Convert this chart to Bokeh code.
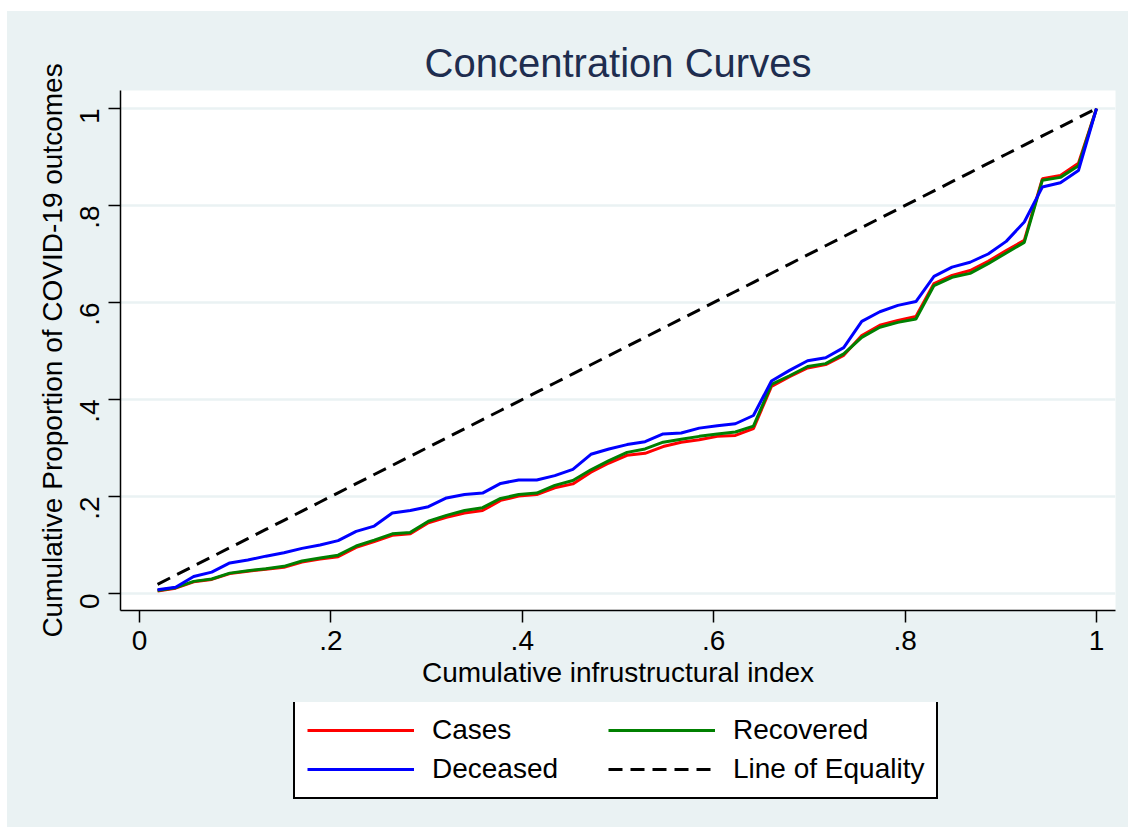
from bokeh.plotting import figure
from bokeh.layouts import column
from bokeh.models import Legend, LegendItem, FixedTicker, Range1d
from bokeh.embed import file_html
from bokeh.resources import INLINE
import math

N = 53
x_vals = [i / N for i in range(1, N + 1)]

cases = [0.005, 0.011, 0.024, 0.029, 0.041, 0.046, 0.050, 0.054, 0.065, 0.071,
         0.076, 0.095, 0.107, 0.120, 0.123, 0.146, 0.157, 0.166, 0.171, 0.192,
         0.201, 0.204, 0.218, 0.226, 0.250, 0.269, 0.285, 0.289, 0.303, 0.312,
         0.317, 0.324, 0.326, 0.340, 0.427, 0.447, 0.465, 0.472, 0.491, 0.532,
         0.553, 0.563, 0.571, 0.639, 0.656, 0.666, 0.685, 0.707, 0.728, 0.855,
         0.862, 0.887, 1.000]
recovered = [0.006, 0.012, 0.025, 0.030, 0.042, 0.047, 0.051, 0.056, 0.067, 0.073,
             0.079, 0.098, 0.110, 0.123, 0.126, 0.149, 0.161, 0.171, 0.177, 0.196,
             0.204, 0.207, 0.223, 0.233, 0.255, 0.274, 0.291, 0.298, 0.312, 0.318,
             0.324, 0.329, 0.333, 0.345, 0.431, 0.449, 0.468, 0.474, 0.494, 0.528,
             0.549, 0.559, 0.566, 0.635, 0.652, 0.660, 0.680, 0.702, 0.724, 0.852,
             0.858, 0.882, 1.000]
deceased = [0.0076, 0.013, 0.035, 0.044, 0.063, 0.069, 0.077, 0.084, 0.093, 0.100,
            0.109, 0.128, 0.139, 0.166, 0.171, 0.179, 0.197, 0.204, 0.207, 0.227,
            0.234, 0.234, 0.243, 0.256, 0.287, 0.298, 0.307, 0.313, 0.329, 0.331,
            0.341, 0.346, 0.350, 0.367, 0.438, 0.460, 0.480, 0.486, 0.507, 0.561,
            0.581, 0.594, 0.602, 0.654, 0.673, 0.683, 0.700, 0.726, 0.766, 0.838,
            0.847, 0.872, 1.000]
equality = list(x_vals)

tick_vals = [0, 0.2, 0.4, 0.6, 0.8, 1]
tick_labels = ["0", ".2", ".4", ".6", ".8", "1"]

series_names = ["Cases", "Recovered", "Deceased", "Line of Equality"]
series_values = [cases, recovered, deceased, equality]
series_colors = ["#ff0000", "#008000", "#0000ff", "black"]
series_dash = ["solid", "solid", "solid", "14 8"]

FONT = "Liberation Sans"
BG = "#eaf2f3"

p = figure(width=1121, height=691, output_backend="svg", toolbar_location=None,
           x_range=Range1d(-0.01985, 1.01985), y_range=Range1d(-0.03505, 1.0371),
           min_border_left=113, min_border_right=13, min_border_top=79,
           min_border_bottom=92)
p.background_fill_color = "white"
p.border_fill_color = BG
p.outline_line_color = None

p.title.text = "Concentration Curves"
p.title.align = "center"
p.title.text_font = FONT
p.title.text_font_size = "40px"
p.title.text_font_style = "normal"
p.title.text_color = "#1e2d4f"
p.title.standoff = 12

for ax in (p.xaxis[0], p.yaxis[0]):
    ax.ticker = FixedTicker(ticks=tick_vals)
    ax.major_label_overrides = {v: l for v, l in zip(tick_vals, tick_labels)}
    ax.minor_tick_line_color = None
    ax.major_tick_out = 12
    ax.major_tick_in = 0
    ax.major_tick_line_width = 1.5
    ax.axis_line_width = 1.5
    ax.axis_line_color = "black"
    ax.major_tick_line_color = "black"
    ax.major_label_text_font = FONT
    ax.major_label_text_font_size = "28px"
    ax.major_label_text_color = "black"
    ax.axis_label_text_font = FONT
    ax.axis_label_text_font_size = "28px"
    ax.axis_label_text_font_style = "normal"
    ax.axis_label_text_color = "black"

p.xaxis.axis_label = "Cumulative infrustructural index"
p.yaxis.axis_label = "Cumulative Proportion of COVID-19 outcomes"
p.yaxis.major_label_orientation = math.pi / 2
p.xaxis.major_label_standoff = 8
p.yaxis.major_label_standoff = 19
p.xaxis.axis_label_standoff = 4
p.yaxis.axis_label_standoff = 0

p.xgrid.grid_line_color = None
p.ygrid.ticker = FixedTicker(ticks=tick_vals)
p.ygrid.grid_line_color = BG
p.ygrid.grid_line_width = 2.5

for vals, col, dash in zip(series_values, series_colors, series_dash):
    p.line(x_vals, vals, line_color=col, line_width=3, line_dash=dash)

# legend panel below the plot (its frame is aligned with the main frame by the column)
lg = figure(width=1121, height=125, output_backend="svg", toolbar_location=None,
            x_range=Range1d(5, 6), y_range=Range1d(5, 6),
            x_axis_type=None, y_axis_type=None,
            min_border_left=113, min_border_right=13,
            min_border_top=0, min_border_bottom=0)
lg.background_fill_color = BG
lg.border_fill_color = BG
lg.outline_line_color = None
lg.xgrid.grid_line_color = None
lg.ygrid.grid_line_color = None

legend_r = {}
for name, vals, col, dash in zip(series_names, series_values, series_colors, series_dash):
    # same series, drawn outside this panel's view: only its legend entry shows
    legend_r[name] = lg.line(x_vals, vals, line_color=col, line_width=3, line_dash=dash)

# column-major fill: first column Cases/Deceased, second Recovered/Line of Equality
order = ["Cases", "Deceased", "Recovered", "Line of Equality"]
legend = Legend(items=[LegendItem(label=n, renderers=[legend_r[n]]) for n in order],
                location=(173, 28), ncols=2)
legend.label_text_font = FONT
legend.label_text_font_size = "28px"
legend.label_text_color = "black"
legend.glyph_width = 107
legend.glyph_height = 30
legend.label_standoff = 18
legend.label_width = 169
legend.label_height = 30
legend.spacing = 7
legend.padding = 12
legend.margin = 0
legend.border_line_color = "black"
legend.border_line_alpha = 1.0
legend.border_line_width = 2
legend.background_fill_color = "white"
legend.background_fill_alpha = 1
lg.add_layout(legend, "center")

layout = column(p, lg, spacing=0, margin=(11, 0, 0, 7), background=BG)

open("out.html", "w").write(file_html(layout, INLINE))
